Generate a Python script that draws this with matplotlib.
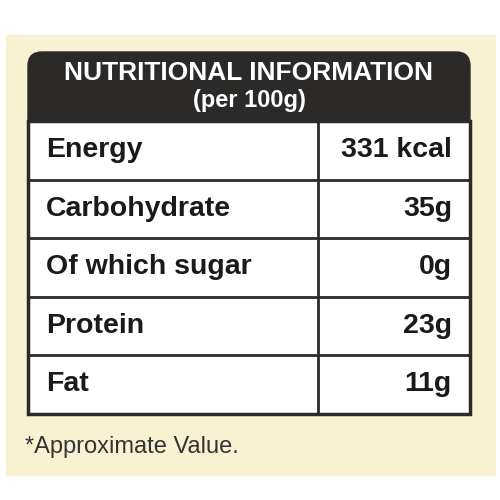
import matplotlib.pyplot as plt
from matplotlib.patches import Rectangle, FancyBboxPatch

nutrients = ['Energy', 'Carbohydrate', 'Of which sugar', 'Protein', 'Fat']
amounts = ['331 kcal', '35g', '0g', '23g', '11g']
title = 'NUTRITIONAL INFORMATION'
subtitle = '(per 100g)'
footnote = '*Approximate Value.'

fig = plt.figure(figsize=(5, 5), dpi=100)
ax = fig.add_axes([0, 0, 1, 1])
ax.set_xlim(0, 500)
ax.set_ylim(500, 0)
ax.axis('off')

# cream background
ax.add_patch(Rectangle((6, 35), 489, 440, color='#f9f2d2', zorder=0))

# dark header with rounded corners
left, right = 28, 470
ax.add_patch(FancyBboxPatch((left, 52), right - left, 90, boxstyle='round,pad=0,rounding_size=14',
                            color='#2b2a28', zorder=1))
ax.text(249, 73, title, color='white', fontsize=19, fontweight='bold', ha='center', va='center',
        family='Liberation Sans')
ax.text(249, 100, subtitle, color='white', fontsize=17, fontweight='bold', ha='center', va='center',
        family='Liberation Sans')

# table rows
top, row_h, split = 121, 58.5, 318
ax.add_patch(Rectangle((left, top), right - left, row_h * len(nutrients), facecolor='white',
                       edgecolor='#2b2a28', lw=2.5, zorder=2))
for i, (name, val) in enumerate(zip(nutrients, amounts)):
    y0 = top + i * row_h
    if i > 0:
        ax.plot([left, right], [y0, y0], color='#2b2a28', lw=2, zorder=3)
    yc = y0 + row_h / 2
    ax.text(left + 18, yc, name, fontsize=20.5, fontweight='bold', va='center', color='#1a1a1a',
            family='Liberation Sans', zorder=4)
    ax.text(right - 18, yc, val, fontsize=20.5, fontweight='bold', va='center', ha='right',
            color='#1a1a1a', family='Liberation Sans', zorder=4)
ax.plot([split, split], [top, top + row_h * len(nutrients)], color='#2b2a28', lw=2, zorder=3)

ax.text(25, 447, footnote, fontsize=17, va='center', color='#333333', family='Liberation Sans')

fig.savefig('out.png', dpi=100)
